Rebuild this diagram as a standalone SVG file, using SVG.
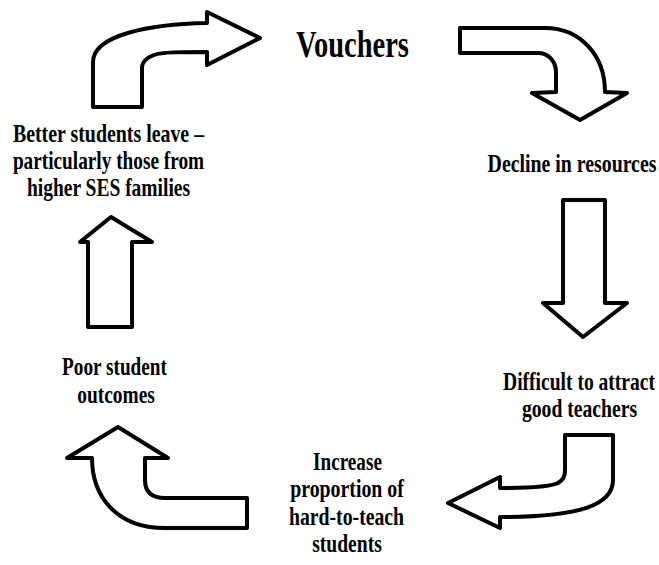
<svg xmlns="http://www.w3.org/2000/svg" width="659" height="565" viewBox="0 0 659 565">
<style>
text{font-family:"Liberation Serif","Times New Roman",serif;font-weight:bold;font-size:25px;fill:#000;text-anchor:middle}
.big{font-size:37px}
.arr{fill:#fff;stroke:#000;stroke-width:4;stroke-linejoin:round}
</style>
<rect width="659" height="565" fill="#fff"/>
<g id="connectors">
<path class="arr" d="M93,107 L93,62 C93,35 150,24 207,23 L207,12 L260,38 L207,65 L207,52 C180,52 162,52 154,55 C146,58 142,62 142,68 L142,107 Z"/>
<path class="arr" d="M460,28 L545,28 C580,28 605,55 605,92 L627,93 L580,120 L532,93 L556,92 L556,72 C556,61 548,53 538,53 L460,53 Z"/>
<path class="arr" d="M563,200 L605,200 L605,303 L627,303 L583,337 L543,303 L563,303 Z"/>
<path class="arr" d="M565,435 L613,435 L613,480 C613,505 580,517 500,517 L500,528 L448,503 L500,477 L500,488 C530,488 550,487 558,483 C563,480 565,477 565,470 Z"/>
<path class="arr" d="M247,498 L247,528 L165,528 C115,528 92,495 92,458 L67,458 L118,427 L168,458 L145,458 L145,480 C145,492 152,498 165,498 Z"/>
<path class="arr" d="M88,327 L88,242 L80,242 L111,217 L152,242 L132,242 L132,327 Z"/>
</g>
<g id="vouchers"><text class="big" transform="translate(352.5,57) scale(0.8,1)" textLength="141" lengthAdjust="spacingAndGlyphs">Vouchers</text></g>
<g id="decline"><text transform="translate(572,172) scale(0.8,1)" textLength="211" lengthAdjust="spacingAndGlyphs">Decline in resources</text></g>
<g id="difficult">
<text transform="translate(579,390) scale(0.8,1)" textLength="190" lengthAdjust="spacingAndGlyphs">Difficult to attract</text>
<text transform="translate(579.5,417) scale(0.8,1)" textLength="144" lengthAdjust="spacingAndGlyphs">good teachers</text>
</g>
<g id="increase">
<text transform="translate(347.5,470) scale(0.8,1)" textLength="86" lengthAdjust="spacingAndGlyphs">Increase</text>
<text transform="translate(347,497) scale(0.8,1)" textLength="142" lengthAdjust="spacingAndGlyphs">proportion of</text>
<text transform="translate(346.5,525) scale(0.8,1)" textLength="144" lengthAdjust="spacingAndGlyphs">hard-to-teach</text>
<text transform="translate(347,552) scale(0.8,1)" textLength="87" lengthAdjust="spacingAndGlyphs">students</text>
</g>
<g id="poor">
<text transform="translate(114.5,375) scale(0.8,1)" textLength="131" lengthAdjust="spacingAndGlyphs">Poor student</text>
<text transform="translate(116,403) scale(0.8,1)" textLength="97" lengthAdjust="spacingAndGlyphs">outcomes</text>
</g>
<g id="better">
<text transform="translate(108.5,142) scale(0.8,1)" textLength="239" lengthAdjust="spacingAndGlyphs">Better students leave –</text>
<text transform="translate(108.5,169) scale(0.8,1)" textLength="239" lengthAdjust="spacingAndGlyphs">particularly those from</text>
<text transform="translate(108.5,196) scale(0.8,1)" textLength="204" lengthAdjust="spacingAndGlyphs">higher SES families</text>
</g>
</svg>
